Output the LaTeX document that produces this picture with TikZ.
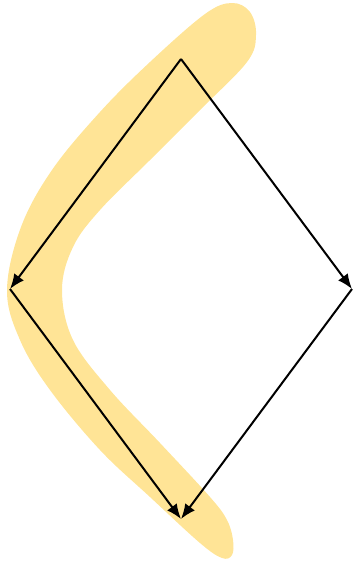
\documentclass[tikz,border=0pt]{standalone}
\usetikzlibrary{arrows.meta}
\definecolor{resalte}{RGB}{255,228,150}
\begin{document}
\begin{tikzpicture}[x=1pt, y=-1pt,
    flecha/.style={line width=2pt, -{Latex[length=15pt, width=12pt]}}]

\useasboundingbox (0,0) rectangle (354,563);

% ── Banda resaltada ───────────────────────────────────────────
\fill[resalte] plot[smooth cycle, tension=0.6] coordinates {
    (232,3) (205,14) (150,62) (100,112) (52,170) (21,227) (7,290)
    (20,340) (50,390) (100,450) (150,497) (200,543) (222,558)
    (232,555) (233,540) (227,520) (210,497) (160,443) (110,390)
    (73,340) (62,290) (73,247) (100,210) (150,160) (200,110)
    (247,62) (256,35) (250,12)};

% ── Vértices ──────────────────────────────────────────────────
\coordinate (arriba)    at (181,59);
\coordinate (izquierda) at (10,289);
\coordinate (derecha)   at (352,289);
\coordinate (abajo)     at (181,519);

% ── Aristas ───────────────────────────────────────────────────
\draw[flecha] (arriba)    -- (izquierda);
\draw[flecha] (arriba)    -- (derecha);
\draw[flecha] (izquierda) -- (abajo);
\draw[flecha] (derecha)   -- (abajo);

\end{tikzpicture}
\end{document}
